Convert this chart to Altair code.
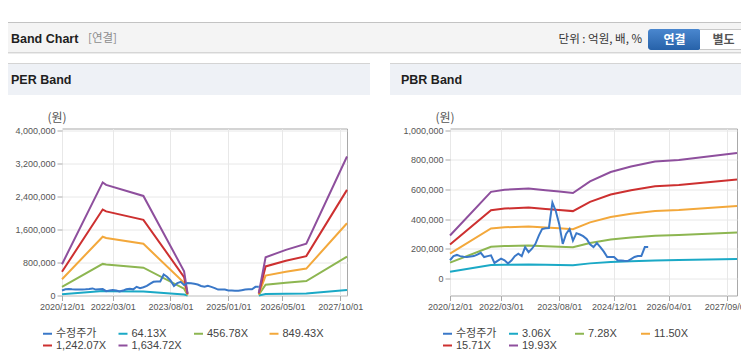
import altair as alt
import pandas as pd

LFONT = "Liberation Sans, Noto Sans CJK KR, sans-serif"
KFONT = "Noto Sans CJK KR, Liberation Sans, sans-serif"

PER_SERIES = ["수정주가", "64.13X", "456.78X", "849.43X", "1,242.07X", "1,634.72X"]
PBR_SERIES = ["수정주가", "3.06X", "7.28X", "11.50X", "15.71X", "19.93X"]
LINE_COLORS = ["#3a78c8", "#1ba9c6", "#8db651", "#f3a83b", "#cd3030", "#8e4f9d"]

X_START = "2020/12/01"
X_END = "2027/12/01"
PER_X_TICKS = ["2020/12/01", "2022/03/01", "2023/08/01", "2025/01/01", "2026/05/01", "2027/10/01"]
PBR_X_TICKS = ["2020/12/01", "2022/03/01", "2023/08/01", "2024/12/01", "2026/04/01", "2027/09/01"]
PER_Y_TICKS = [0, 800000, 1600000, 2400000, 3200000, 4000000]
PBR_Y_TICKS = [0, 200000, 400000, 600000, 800000, 1000000]

# 수정주가 (monthly)
PRICE_DATES = [
    "2020/12/01",
    "2021/01/01", "2021/02/01", "2021/03/01", "2021/04/01", "2021/05/01", "2021/06/01",
    "2021/07/01", "2021/08/01", "2021/09/01", "2021/10/01", "2021/11/01", "2021/12/01",
    "2022/01/01", "2022/02/01", "2022/03/01", "2022/04/01", "2022/05/01", "2022/06/01",
    "2022/07/01", "2022/08/01", "2022/09/01", "2022/10/01", "2022/11/01", "2022/12/01",
    "2023/01/01", "2023/02/01", "2023/03/01", "2023/04/01", "2023/05/01", "2023/06/01",
    "2023/07/01", "2023/08/01", "2023/09/01", "2023/10/01", "2023/11/01", "2023/12/01",
    "2024/01/01", "2024/02/01", "2024/03/01", "2024/04/01", "2024/05/01", "2024/06/01",
    "2024/07/01", "2024/08/01", "2024/09/01", "2024/10/01", "2024/11/01", "2024/12/01",
    "2025/01/01", "2025/02/01", "2025/03/01", "2025/04/01", "2025/05/01", "2025/06/01",
    "2025/07/01", "2025/08/01", "2025/09/01", "2025/10/01",
]
PRICE_VALUES = [
    122000,
    150000, 158000, 150000, 146000, 144000, 148000,
    150000, 160000, 172000, 144000, 150000, 155000,
    104000, 120000, 133000, 122000, 100000, 120000,
    150000, 166000, 150000, 211000, 177000, 200000,
    233000, 290000, 333000, 338000, 340000, 511000,
    455000, 366000, 233000, 300000, 333000, 255000,
    305000, 296000, 285000, 266000, 230000, 211000,
    238000, 211000, 180000, 144000, 144000, 144000,
    122000, 120000, 118000, 117000, 130000, 144000,
    150000, 150000, 211000, 211000,
]

# PER band lines (two segments, gap where EPS is negative)
PER_DATES_A = ["2020/12/01", "2021/12/01", "2022/01/01", "2022/12/01", "2023/12/01", "2024/01/01"]
PER_DATES_B = ["2025/10/01", "2025/12/01", "2026/06/01", "2026/12/01", "2027/12/01"]
PER_064_A = [30000, 108000, 106000, 95000, 23000, 2000]
PER_064_B = [2000, 36000, 44000, 49000, 133000]
PER_457_A = [212000, 768000, 752000, 676000, 165000, 14000]
PER_457_B = [17000, 260000, 310000, 352000, 944000]
PER_849_A = [395000, 1429000, 1398000, 1257000, 307000, 26000]
PER_849_B = [31000, 483000, 577000, 655000, 1756000]
PER_1242_A = [577000, 2089000, 2044000, 1839000, 448000, 38000]
PER_1242_B = [46000, 707000, 843000, 957000, 2568000]
PER_1635_A = [760000, 2750000, 2690000, 2420000, 590000, 50000]
PER_1635_B = [60000, 930000, 1110000, 1260000, 3380000]

# PBR band lines
PBR_DATES = ["2020/12/01", "2021/12/01", "2022/04/01", "2022/11/01", "2023/04/01", "2023/08/01",
             "2023/12/01", "2024/05/01", "2024/11/01", "2025/05/01", "2025/12/01", "2026/07/01",
             "2027/12/01"]
PBR_306 = [44000, 90000, 92000, 93000, 91000, 90000, 88000, 101000, 110000, 116000, 121000, 123000, 130000]
PBR_728 = [106000, 213000, 218000, 222000, 217000, 214000, 210000, 239000, 262000, 276000, 288000, 292000, 309000]
PBR_1150 = [167000, 337000, 345000, 350000, 343000, 338000, 332000, 378000, 414000, 436000, 455000, 462000, 488000]
PBR_1571 = [228000, 460000, 471000, 478000, 469000, 462000, 454000, 516000, 566000, 595000, 622000, 631000, 667000]
PBR_1993 = [289000, 584000, 598000, 607000, 595000, 586000, 576000, 655000, 718000, 755000, 789000, 800000, 846000]


def frame(dates, values, series, seg):
    return pd.DataFrame({"date": dates, "value": values, "series": series, "seg": seg})


price_df = frame(PRICE_DATES, PRICE_VALUES, "수정주가", "a")

per_df = pd.concat([
    frame(PER_DATES_A, PER_064_A, "64.13X", "a"), frame(PER_DATES_B, PER_064_B, "64.13X", "b"),
    frame(PER_DATES_A, PER_457_A, "456.78X", "a"), frame(PER_DATES_B, PER_457_B, "456.78X", "b"),
    frame(PER_DATES_A, PER_849_A, "849.43X", "a"), frame(PER_DATES_B, PER_849_B, "849.43X", "b"),
    frame(PER_DATES_A, PER_1242_A, "1,242.07X", "a"), frame(PER_DATES_B, PER_1242_B, "1,242.07X", "b"),
    frame(PER_DATES_A, PER_1635_A, "1,634.72X", "a"), frame(PER_DATES_B, PER_1635_B, "1,634.72X", "b"),
], ignore_index=True)

pbr_df = pd.concat([
    frame(PBR_DATES, PBR_306, "3.06X", "a"),
    frame(PBR_DATES, PBR_728, "7.28X", "a"),
    frame(PBR_DATES, PBR_1150, "11.50X", "a"),
    frame(PBR_DATES, PBR_1571, "15.71X", "a"),
    frame(PBR_DATES, PBR_1993, "19.93X", "a"),
], ignore_index=True)


def dt(s):
    y, m, d = (int(v) for v in s.split("/"))
    return alt.DateTime(year=y, month=m, date=d)


PLOT_H = 167


def panel(band_df, series, x_ticks, y_ticks, y_domain, legend_x, col_pad):
    x = alt.X(
        "date:T",
        scale=alt.Scale(domain=[dt(X_START), dt(X_END)], nice=False),
        axis=alt.Axis(values=[dt(t) for t in x_ticks], format="%Y/%m/%d", title=None,
                      labelAngle=0, labelOverlap=False, labelFlush=False),
    )
    y = alt.Y(
        "value:Q",
        scale=alt.Scale(domain=y_domain, nice=False, zero=False),
        axis=alt.Axis(values=y_ticks, format=",d", title="(원)", titleAngle=0, titleX=-5.5,
                      titleY=-11, titleAlign="center", titleBaseline="middle", titleFont=KFONT,
                      titleFontSize=12, titleFontWeight="normal", titleColor="#555555",
                      labelFlush=False),
    )
    color = alt.Color(
        "series:N",
        scale=alt.Scale(domain=series, range=LINE_COLORS),
        legend=alt.Legend(
            title=None, orient="none", legendX=legend_x, legendY=199.5, direction="horizontal",
            columns=4, symbolType="stroke", symbolSize=81, symbolStrokeWidth=2,
            labelFont=LFONT, labelFontSize=11, labelColor="#444444", labelOffset=3,
            gridAlign="all", columnPadding=col_pad, rowPadding=0, padding=0,
        ),
    )
    bands = alt.Chart(band_df).mark_line(strokeWidth=2).encode(
        x=x, y=y, color=color, detail="seg:N")
    price = alt.Chart(price_df).mark_line(strokeWidth=2).encode(x=x, y=y, color=color)
    return bands, price


# decorations (page coordinates, converted relative to the left plot origin)
OX, OY = 62, 128.5
ONE = pd.DataFrame({"k": [0]})


def rect(x1, y1, x2, y2, fill, **kw):
    return alt.Chart(ONE).mark_rect(fill=fill, **kw).encode(
        x=alt.value(x1 - OX), x2=alt.value(x2 - OX), y=alt.value(y1 - OY), y2=alt.value(y2 - OY))


def label(x, y, s, **kw):
    return alt.Chart(ONE).mark_text(text=s, baseline="middle", **kw).encode(
        x=alt.value(x - OX), y=alt.value(y - OY))


blue_grad = alt.Gradient(
    gradient="linear", x1=0, x2=0, y1=0, y2=1,
    stops=[alt.GradientStop(color="#4a87cf", offset=0), alt.GradientStop(color="#2762a9", offset=1)],
)

deco = [
    rect(8, 22, 749, 23, "#c3c3c3"),
    rect(8, 23, 749, 52, "#f4f4f4"),
    rect(8, 52, 749, 53, "#d6d6d6"),
    rect(8, 53, 749, 54, "#ececec"),
    label(11, 38.5, "Band Chart", font=LFONT, fontSize=12.5, fontWeight="bold", color="#1e1e1e", align="left"),
    label(88, 38.5, "[연결]", font=KFONT, fontSize=11.5, color="#8c8c8c", align="left"),
    label(642, 39.5, "단위 : 억원, 배, %", font=KFONT, fontSize=11.5, color="#333333", align="right"),
    rect(648, 29, 701, 50, blue_grad, cornerRadius=3),
    rect(700, 29, 749, 50, "#c8c8c8"),
    rect(700, 30, 749, 49, "#ffffff"),
    label(674.5, 39.5, "연결", font=KFONT, fontSize=12, fontWeight="bold", color="#ffffff", align="center"),
    label(723.5, 39.5, "별도", font=KFONT, fontSize=12, fontWeight="bold", color="#555555", align="center"),
    # PER panel
    rect(8, 63, 370, 64, "#d4d4d4"),
    rect(8, 64, 370, 95, "#eef1f6"),
    label(11, 80, "PER Band", font=LFONT, fontSize=12.5, fontWeight="bold", color="#1e1e1e", align="left"),
    # PBR panel
    rect(390, 63, 749, 64, "#d4d4d4"),
    rect(390, 64, 749, 95, "#eef1f6"),
    label(401, 80, "PBR Band", font=LFONT, fontSize=12.5, fontWeight="bold", color="#1e1e1e", align="left"),
]

per_bands, per_price = panel(per_df, PER_SERIES, PER_X_TICKS, PER_Y_TICKS, [0, 4060000], -20, 7.5)
pbr_bands, pbr_price = panel(pbr_df, PBR_SERIES, PBR_X_TICKS, PBR_Y_TICKS, [-116000, 1012000], -8, 8)

left = alt.layer(*deco, per_bands, per_price).properties(width=285, height=PLOT_H)
right = alt.layer(pbr_bands, pbr_price).properties(width=287, height=PLOT_H)

# the page body is 733 x 348 px inside its 8px margin; the chart is clipped to that box
PAD = {"left": OX - 8, "top": OY - 8, "right": 733 - (OX - 8), "bottom": 348 - (OY - 8)}

chart = (
    alt.hconcat(left, right, spacing=103, bounds="flush")
    .resolve_scale(x="independent", y="independent", color="independent")
    .resolve_legend(color="independent")
    .properties(padding=PAD, autosize=alt.AutoSizeParams(type="none"))
    .configure_view(stroke="#a9a9a9", strokeWidth=1)
    .configure_axis(labelFont=LFONT, labelFontSize=9, labelColor="#555555", tickColor="#aaaaaa",
                    tickSize=5, domain=False, gridColor="#e8e8e8", labelPadding=2)
)

chart.save("out.html", embed_options={"renderer": "svg", "actions": False})
